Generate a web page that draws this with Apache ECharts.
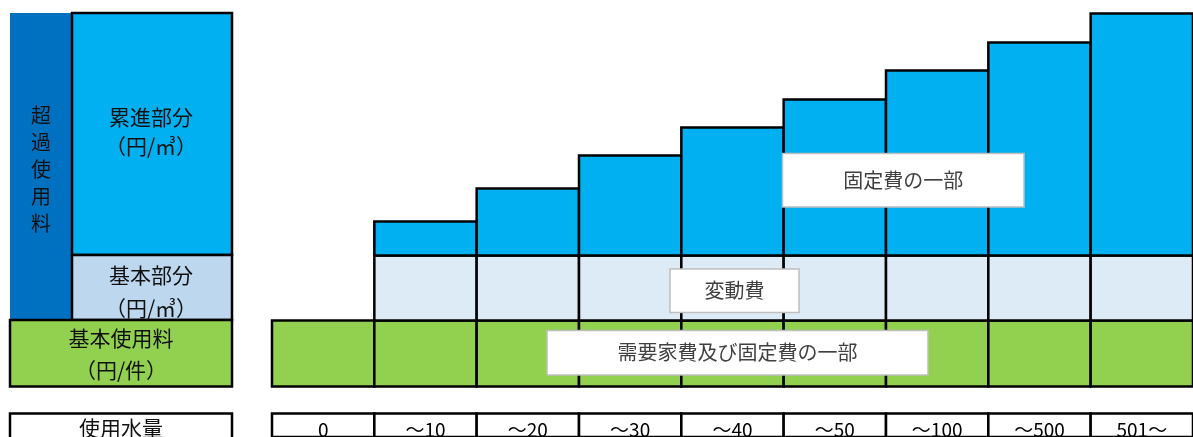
<!DOCTYPE html>
<html>
<head>
<meta charset="utf-8">
<script src="https://cdn.jsdelivr.net/npm/echarts@6/dist/echarts.min.js"></script>
<style>
  html, body { margin: 0; padding: 0; background: #fff; }
  #chart { width: 1193px; height: 437px; }
</style>
</head>
<body>
<div id="chart"></div>
<script>
// Usage bands (m³) along the bottom row
const categories = ['0', '～10', '～20', '～30', '～40', '～50', '～100', '～500', '501～'];
// Fixed charge per connection (基本使用料)
const baseCharge = [66, 66, 66, 66, 66, 66, 66, 66, 66];
// Basic volumetric part (基本部分)
const basicPart = [0, 65, 65, 65, 65, 65, 65, 65, 65];
// Progressive volumetric part (累進部分), rising by band
const progressivePart = [0, 34, 67, 100, 128, 156, 185, 213, 242];

const FONT = '"Noto Sans CJK JP", "Noto Sans", sans-serif';
const BLUE = '#00b0f0';
const DARK_BLUE = '#0070c0';
const GREEN = '#92d050';
const PALE = '#ddebf7';
const PALE_KEY = '#bdd7ee';
const EDGE = '#000';
const EDGE_W = 2.5;

// Stack the three layers into [category, bottom, top] segments
const layers = [baseCharge, basicPart, progressivePart];
const stacked = layers.map(() => []);
categories.forEach((c, i) => {
  let lo = 0;
  layers.forEach((vals, k) => {
    const hi = lo + vals[i];
    if (vals[i] > 0) stacked[k].push([i, lo, hi]);
    lo = hi;
  });
});
const tableRow = categories.map((c, i) => [i, 0, 1]);

const chart = echarts.init(document.getElementById('chart'), null, { renderer: 'canvas' });

// Each cell fills its whole category band, outlined in black
function cellRenderer(fill, withLabel) {
  return function (params, api) {
    const idx = api.value(0);
    const p0 = api.coord([idx, api.value(1)]);
    const p1 = api.coord([idx, api.value(2)]);
    const w = api.size([1, 0])[0];
    const rect = {
      type: 'rect',
      shape: { x: p0[0] - w / 2, y: p1[1], width: w, height: p0[1] - p1[1] },
      style: { fill: fill, stroke: EDGE, lineWidth: EDGE_W }
    };
    if (!withLabel) return rect;
    return {
      type: 'group',
      children: [
        rect,
        { type: 'text', x: p0[0], y: p1[1] + 16.5,
          style: { text: categories[idx], fill: '#000', font: '19px ' + FONT,
                   align: 'center', verticalAlign: 'middle' } }
      ]
    };
  };
}

function keyText(x, y, text, size) {
  return {
    type: 'text', x: x, y: y, z: 20,
    style: { text: text, fill: '#111', font: size + 'px ' + FONT, align: 'center', verticalAlign: 'middle' }
  };
}

function noteBox(x, y, w, h, text) {
  return [
    { type: 'rect', z: 30, shape: { x: x, y: y, width: w, height: h },
      style: { fill: '#fff', stroke: '#bfbfbf', lineWidth: 1.5 } },
    { type: 'text', z: 31, x: x + w / 2, y: y + h / 2,
      style: { text: text, fill: '#404040', font: '20px ' + FONT, align: 'center', verticalAlign: 'middle' } }
  ];
}

const cellSeries = (name, data, fill) => ({
  name: name, type: 'custom', data: data, renderItem: cellRenderer(fill, false),
  encode: { x: 0, y: [1, 2] }, z: 2
});

const option = {
  animation: false,
  grid: [
    { left: 272, right: -4, top: 13.5, bottom: 50.5 },
    { left: 272, right: -4, top: 413.5, height: 40 }
  ],
  xAxis: [
    { type: 'category', gridIndex: 0, data: categories, show: false },
    { type: 'category', gridIndex: 1, data: categories, show: false }
  ],
  yAxis: [
    { type: 'value', gridIndex: 0, min: 0, max: 373, show: false },
    { type: 'value', gridIndex: 1, min: 0, max: 1, show: false }
  ],
  series: [
    cellSeries('基本使用料', stacked[0], GREEN),
    cellSeries('基本部分', stacked[1], PALE),
    cellSeries('累進部分', stacked[2], BLUE),
    { name: '使用水量', type: 'custom', xAxisIndex: 1, yAxisIndex: 1, data: tableRow,
      renderItem: cellRenderer('#fff', true), encode: { x: 0, y: [1, 2] } }
  ],
  graphic: [
    // key panel on the left
    { type: 'rect', z: 10, shape: { x: 10, y: 13, width: 62, height: 307 }, style: { fill: DARK_BLUE } },
    { type: 'rect', z: 11, shape: { x: 72, y: 13, width: 160, height: 242 },
      style: { fill: BLUE, stroke: EDGE, lineWidth: EDGE_W } },
    { type: 'rect', z: 11, shape: { x: 72, y: 255, width: 160, height: 65 },
      style: { fill: PALE_KEY, stroke: EDGE, lineWidth: EDGE_W } },
    { type: 'rect', z: 12, shape: { x: 10, y: 320, width: 222, height: 66.5 },
      style: { fill: GREEN, stroke: EDGE, lineWidth: EDGE_W } },
    { type: 'rect', z: 12, shape: { x: 10, y: 413.5, width: 222, height: 40 },
      style: { fill: '#fff', stroke: EDGE, lineWidth: EDGE_W } },
    { type: 'text', x: 41, y: 169, z: 20,
      style: { text: '超\n過\n使\n用\n料', fill: '#111', font: '20px ' + FONT,
               align: 'center', verticalAlign: 'middle', lineHeight: 27 } },
    keyText(151, 117, '累進部分', 21),
    keyText(151, 146, '（円/㎥）', 21),
    keyText(151, 275, '基本部分', 21),
    keyText(151, 308, '（円/㎥）', 21),
    keyText(121, 338, '基本使用料', 21),
    keyText(121, 370, '（円/件）', 21),
    keyText(121, 428, '使用水量', 21),
    // notes over the bars
    ...noteBox(782.5, 153.5, 241.5, 53.5, '固定費の一部'),
    ...noteBox(670, 269, 129, 43.5, '変動費'),
    ...noteBox(547, 330.5, 381, 44.5, '需要家費及び固定費の一部')
  ]
};

chart.setOption(option);
</script>
</body>
</html>
